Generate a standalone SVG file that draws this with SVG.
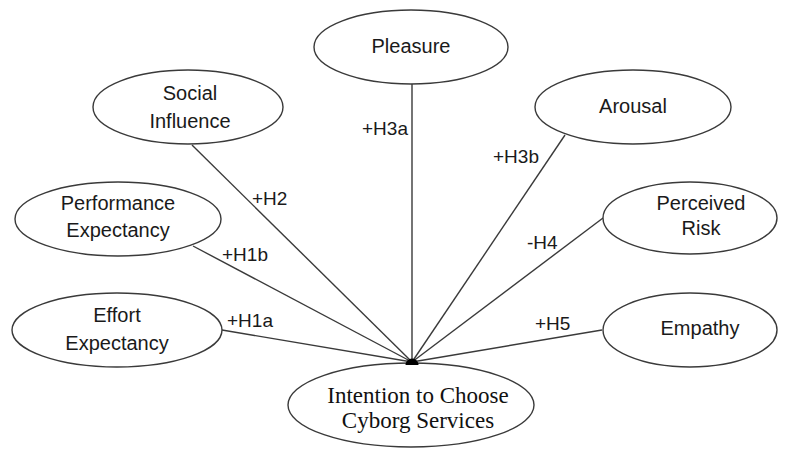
<svg xmlns="http://www.w3.org/2000/svg" width="787" height="450" viewBox="0 0 787 450">
<style>
.n ellipse{fill:#fff;stroke:#3a3a3a;stroke-width:1.4}
.n text{font-family:"Liberation Sans",Arial,sans-serif;font-size:20px;fill:#1a1a1a;text-anchor:middle}
.t text{font-family:"Liberation Serif","Times New Roman",serif;font-size:23px;fill:#111;text-anchor:middle}
.e line{stroke:#3a3a3a;stroke-width:1.4}
.l{font-family:"Liberation Sans",Arial,sans-serif;font-size:19px;fill:#1a1a1a}
</style>
<rect width="787" height="450" fill="#fff"/>
<g id="connectors" class="e">
<line x1="412" y1="84" x2="412" y2="362"/>
<line x1="192" y1="145" x2="412" y2="362"/>
<line x1="193" y1="246" x2="412" y2="362"/>
<line x1="222" y1="330" x2="412" y2="362"/>
<line x1="565" y1="135" x2="412" y2="362"/>
<line x1="603" y1="218" x2="412" y2="362"/>
<line x1="602" y1="330" x2="412" y2="362"/>
</g>
<g id="labels">
<text class="l" x="362" y="135">+H3a</text>
<text class="l" x="252" y="205">+H2</text>
<text class="l" x="222" y="261">+H1b</text>
<text class="l" x="227" y="327">+H1a</text>
<text class="l" x="493" y="163">+H3b</text>
<text class="l" x="527" y="249">-H4</text>
<text class="l" x="535" y="330">+H5</text>
</g>
<g id="pleasure" class="n"><ellipse cx="411" cy="47" rx="97" ry="37"/><text x="411" y="53">Pleasure</text></g>
<g id="social" class="n"><ellipse cx="188" cy="107" rx="95" ry="37"/><text x="190" y="100">Social</text><text x="190" y="128">Influence</text></g>
<g id="arousal" class="n"><ellipse cx="633" cy="107" rx="98" ry="37"/><text x="633" y="113">Arousal</text></g>
<g id="performance" class="n"><ellipse cx="118" cy="219" rx="103" ry="37"/><text x="118" y="210">Performance</text><text x="118" y="237">Expectancy</text></g>
<g id="risk" class="n"><ellipse cx="690" cy="218" rx="87" ry="36"/><text x="701" y="210">Perceived</text><text x="701" y="235">Risk</text></g>
<g id="effort" class="n"><ellipse cx="117" cy="330" rx="105" ry="37"/><text x="117" y="322">Effort</text><text x="117" y="350">Expectancy</text></g>
<g id="empathy" class="n"><ellipse cx="690" cy="330" rx="87" ry="37"/><text x="700" y="335">Empathy</text></g>
<g id="intention" class="n t"><ellipse cx="411" cy="405" rx="123" ry="42"/><text x="418" y="403">Intention to Choose</text><text x="418" y="428">Cyborg Services</text></g>
<path id="junction" d="M405.5,365 A6.5,6.5 0 0 1 418.5,365 Z" fill="#000"/>
</svg>
